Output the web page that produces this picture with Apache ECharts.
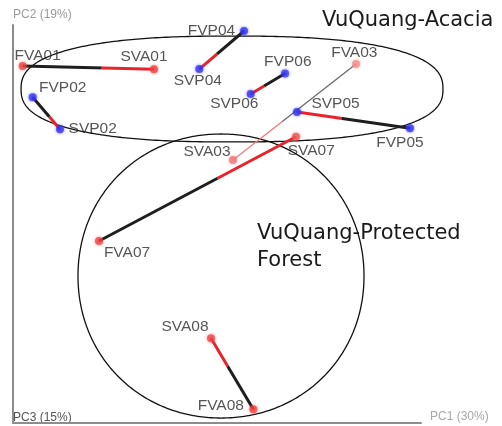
<!DOCTYPE html>
<html>
<head>
<meta charset="utf-8">
<script src="https://cdn.jsdelivr.net/npm/echarts@6/dist/echarts.min.js"></script>
<style>html,body{margin:0;padding:0;background:#fff;}#c{width:502px;height:426px;}</style>
</head>
<body>
<div id="c"></div>
<script>
// ---- data ----
const sampleNames = ['FVA01','SVA01','FVP04','SVP04','FVP02','SVP02','FVP06','SVP06','FVA03','SVP05','FVP05','SVA03','SVA07','FVA07','SVA08','FVA08'];
const pc1Values   = [2.38, 34.56, 56.62, 45.66, 4.83, 11.52, 66.67, 58.26, 84.07, 69.61, 97.30, 53.92, 69.36, 21.08, 48.53, 58.90];
const pc2Values   = [89.70, 88.87, 98.49, 88.94, 81.83, 73.79, 87.81, 82.66, 90.20, 78.14, 74.04, 66.08, 71.93, 45.73, 21.28, 3.44];
const axisNames   = ['PC1 (30%)', 'PC2 (19%)', 'PC3 (15%)'];
const groupNames  = ['VuQuang-Acacia', 'VuQuang-Protected\nForest'];
const groupCenterX = [53.68, 50.98];
const groupCenterY = [83.92, 36.93];
const groupRadiusX = [51.7, 35.05];
const groupRadiusY = [13.3, 35.68];

// ---- style (not data) ----
const labelOffsets = {
  FVA01:[15,-10], SVA01:[-10,-13], FVP04:[-32.5,0], SVP04:[-1.5,12], FVP02:[30,-9.3], SVP02:[32.7,-1],
  FVP06:[2.8,-11.5], SVP06:[-16.4,10], FVA03:[-1.7,-11.5], SVP05:[38.5,-8], FVP05:[-10,14.2],
  SVA03:[-26,-8], SVA07:[15.3,14.3], FVA07:[28,12], SVA08:[-26,-11.3], FVA08:[-32.5,-3.5]
};
const pointColors = { FVA03:'rgba(242,140,140,0.9)', SVA03:'rgba(240,120,120,0.9)', SVA07:'rgba(240,85,85,0.9)' };
const fadedPairs = { '03': true };
const shapeExponent = [2.5, 2.05];

function colorOf(n) {
  if (pointColors[n]) return pointColors[n];
  return n.charAt(2) === 'A' ? 'rgba(240,62,62,0.88)' : 'rgba(52,52,238,0.9)';
}

// build pairs (F sample -> S sample of same code)
const pairRows = [];
sampleNames.forEach((n, i) => {
  if (n.charAt(0) !== 'F') return;
  const j = sampleNames.indexOf('S' + n.slice(1));
  if (j < 0) return;
  pairRows.push([pc1Values[i], pc2Values[i], pc1Values[j], pc2Values[j], fadedPairs[n.slice(3)] ? 1 : 0]);
});

const pointData = sampleNames.map((n, i) => ({
  name: n,
  value: [pc1Values[i], pc2Values[i]],
  itemStyle: { color: colorOf(n), shadowBlur: 3, shadowColor: colorOf(n) },
  label: { offset: labelOffsets[n] }
}));

const groupData = groupNames.map((g, i) => [groupCenterX[i], groupCenterY[i], groupRadiusX[i], groupRadiusY[i], shapeExponent[i]]);

const chart = echarts.init(document.getElementById('c'), null, { renderer: 'canvas' });
const axisCommon = {
  type: 'value', min: 0, max: 100,
  axisLine: { show: true, onZero: false, lineStyle: { color: '#8c8c8c', width: 2 } },
  axisTick: { show: false }, axisLabel: { show: false }, splitLine: { show: false }
};
const bigFont = '21px "DejaVu Sans", "Liberation Sans", Arial, sans-serif';
chart.setOption({
  animation: false,
  grid: { left: 13, right: 81, top: 25, bottom: 3 },
  xAxis: axisCommon,
  yAxis: axisCommon,
  graphic: [
    { type: 'text', left: 13, top: 9, style: { text: axisNames[1], fill: '#9a9a9a', font: '12px "Liberation Sans", Arial, sans-serif' } },
    { type: 'text', left: 430, top: 411, style: { text: axisNames[0], fill: '#a8a8a8', font: '12px "Liberation Sans", Arial, sans-serif' } },
    { type: 'text', left: 13, top: 412, style: { text: axisNames[2], fill: '#555', font: '12px "Liberation Sans", Arial, sans-serif' } },
    { type: 'text', left: 322, top: 10, style: { text: groupNames[0], fill: '#1a1a1a', font: bigFont } },
    { type: 'text', left: 257, top: 220, style: { text: groupNames[1], fill: '#1a1a1a', font: bigFont, lineHeight: 27 } }
  ],
  series: [
    {
      type: 'custom', z: 1, silent: true,
      data: groupData,
      renderItem: function (params, api) {
        const c = api.coord([api.value(0), api.value(1)]);
        const s = api.size([api.value(2), api.value(3)]);
        const n = api.value(4);
        const pts = [];
        for (let k = 0; k < 400; k++) {
          const t = k / 400 * 2 * Math.PI;
          const ct = Math.cos(t), st = Math.sin(t);
          pts.push([c[0] + s[0] * Math.sign(ct) * Math.pow(Math.abs(ct), 2 / n),
                    c[1] - s[1] * Math.sign(st) * Math.pow(Math.abs(st), 2 / n)]);
        }
        return { type: 'polygon', shape: { points: pts }, style: { fill: 'none', stroke: '#111', lineWidth: 1.3 } };
      }
    },
    {
      type: 'custom', z: 2, silent: true,
      data: pairRows,
      renderItem: function (params, api) {
        const p1 = api.coord([api.value(0), api.value(1)]);
        const p2 = api.coord([api.value(2), api.value(3)]);
        const faded = api.value(4) === 1;
        const dark = faded ? '#6a6a6a' : '#1e1e1e';
        const red = faded ? '#f07a7a' : '#e8232b';
        const grad = new echarts.graphic.LinearGradient(p1[0], p1[1], p2[0], p2[1], [
          { offset: 0, color: dark }, { offset: 0.6, color: dark },
          { offset: 0.6, color: red }, { offset: 1, color: red }
        ], true);
        return { type: 'line', shape: { x1: p1[0], y1: p1[1], x2: p2[0], y2: p2[1] },
                 style: { stroke: grad, lineWidth: faded ? 1.3 : 3 } };
      }
    },
    {
      type: 'scatter', z: 3, symbolSize: 8,
      data: pointData,
      label: {
        show: true, position: 'inside', formatter: '{b}',
        color: '#2b2b2b', fontSize: 15.5, fontFamily: '"Liberation Sans", Arial, sans-serif'
      }
    }
  ]
});
</script>
</body>
</html>
